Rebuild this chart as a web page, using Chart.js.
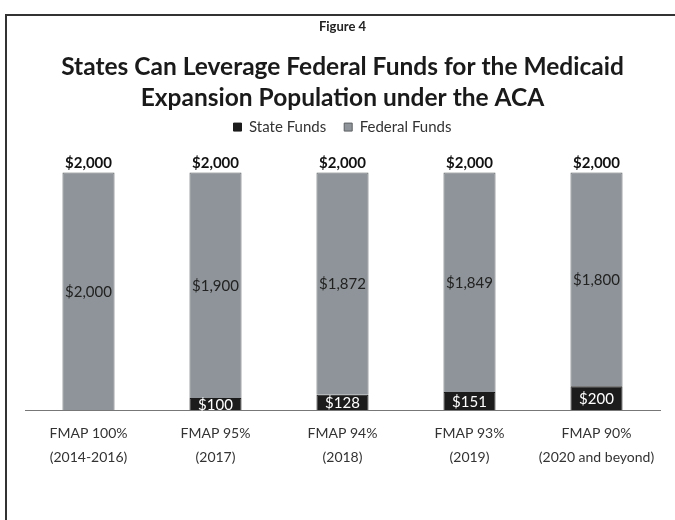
<!DOCTYPE html>
<html>
<head>
<meta charset="utf-8">
<script src="https://cdn.jsdelivr.net/npm/chart.js@4.4.1/dist/chart.umd.min.js"></script>
<style>
  html, body { margin: 0; padding: 0; background: #fff; }
  #wrap { position: relative; width: 675px; height: 520px; }
  #frame {
    position: absolute; left: 5px; top: 14px; right: 0; bottom: 0;
    border-top: 2px solid #333; border-left: 2px solid #333;
    pointer-events: none;
  }
</style>
</head>
<body>
<div id="wrap">
  <canvas id="fundsChart" width="675" height="520"></canvas>
  <div id="frame"></div>
</div>
<script>
const categories = [
  ['FMAP 100%', '(2014-2016)'],
  ['FMAP 95%', '(2017)'],
  ['FMAP 94%', '(2018)'],
  ['FMAP 93%', '(2019)'],
  ['FMAP 90%', '(2020 and beyond)']
];
const stateFunds = [0, 100, 128, 151, 200];
const federalFunds = [2000, 1900, 1872, 1849, 1800];
const totals = [2000, 2000, 2000, 2000, 2000];

const FONT = 'Lato, "Open Sans", sans-serif';

function money(v) {
  return '$' + v.toLocaleString('en-US');
}

// value labels inside each segment + totals above the stacks
const barLabels = {
  id: 'barLabels',
  afterDatasetsDraw(chart) {
    const ctx = chart.ctx;
    ctx.save();
    ctx.textAlign = 'center';
    ctx.textBaseline = 'middle';
    chart.data.datasets.forEach((ds, i) => {
      const meta = chart.getDatasetMeta(i);
      meta.data.forEach((bar, j) => {
        const v = ds.data[j];
        if (!v) return;
        ctx.font = '15px ' + FONT;
        ctx.fillStyle = i === 0 ? '#ffffff' : '#222222';
        ctx.fillText(money(v), bar.x, (bar.y + bar.base) / 2 + 1);
      });
    });
    const top = chart.getDatasetMeta(1);
    ctx.font = 'bold 15px ' + FONT;
    ctx.fillStyle = '#111111';
    top.data.forEach((bar, j) => {
      ctx.fillText(money(totals[j]), bar.x, chart.scales.y.getPixelForValue(totals[j]) - 9);
    });
    ctx.restore();
  }
};

const ctx = document.getElementById('fundsChart').getContext('2d');
new Chart(ctx, {
  type: 'bar',
  data: {
    labels: categories,
    datasets: [{
      label: 'State Funds',
      data: stateFunds,
      backgroundColor: '#1c1c1c',
      borderColor: '#1c1c1c',
      borderWidth: 1
    }, {
      label: 'Federal Funds',
      data: federalFunds,
      backgroundColor: '#8e9499',
      borderColor: '#5c5f62',
      borderWidth: 1
    }]
  },
  options: {
    responsive: false,
    animation: false,
    layout: { padding: { left: 25, right: 15, top: 0, bottom: 0 } },
    datasets: {
      bar: { categoryPercentage: 1, barPercentage: 0.41 }
    },
    scales: {
      x: {
        stacked: true,
        grid: { display: false },
        border: { display: true, color: '#777', width: 1 },
        ticks: {
          color: '#333',
          padding: 3,
          font: { family: FONT, size: 14, lineHeight: 1.72 }
        },
        afterFit(axis) { axis.height = 110; }
      },
      y: {
        stacked: true,
        display: false,
        min: 0,
        max: 2235
      }
    },
    plugins: {
      title: {
        display: true,
        text: 'Figure 4',
        color: '#222',
        font: { family: FONT, size: 13, weight: 'bold' },
        padding: { top: 19, bottom: 17 }
      },
      subtitle: {
        display: true,
        text: ['States Can Leverage Federal Funds for the Medicaid', 'Expansion Population under the ACA'],
        color: '#1a1a1a',
        font: { family: FONT, size: 24.5, weight: 'bold', lineHeight: 1.265 },
        padding: { top: 0, bottom: -12 }
      },
      legend: {
        display: true,
        labels: {
          color: '#333',
          boxWidth: 8,
          boxHeight: 8,
          padding: 18,
          font: { family: FONT, size: 15 }
        }
      },
      tooltip: { enabled: false }
    }
  },
  plugins: [barLabels]
});
</script>
</body>
</html>
